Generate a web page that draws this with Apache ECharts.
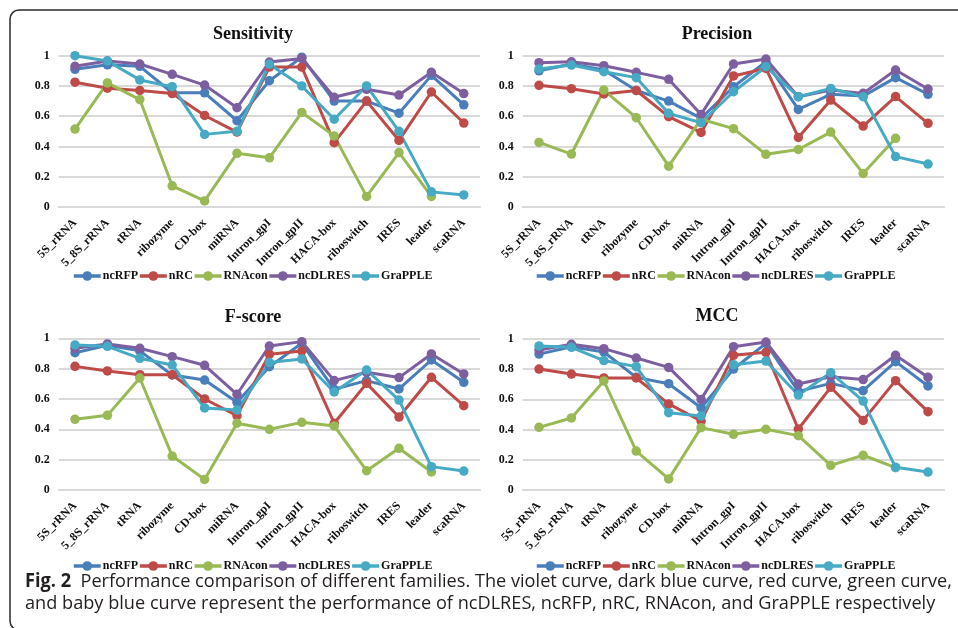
<!DOCTYPE html>
<html>
<head>
<meta charset="utf-8">
<script src="https://cdn.jsdelivr.net/npm/echarts/dist/echarts.min.js"></script>
<style>
  html, body { margin: 0; padding: 0; background: #fff; }
  #chart { width: 958px; height: 628px; }
</style>
</head>
<body>
<div id="chart"></div>
<script>
// RNA families on the x axis
const categories = ['5S_rRNA', '5_8S_rRNA', 'tRNA', 'ribozyme', 'CD-box', 'miRNA',
  'Intron_gpI', 'Intron_gpII', 'HACA-box', 'riboswitch', 'IRES', 'leader', 'scaRNA'];

const methods = ['ncRFP', 'nRC', 'RNAcon', 'ncDLRES', 'GraPPLE'];
const yTicks = [0, 0.2, 0.4, 0.6, 0.8, 1];

// Sensitivity
const sensNcRFP   = [0.91, 0.94, 0.93, 0.755, 0.755, 0.57, 0.835, 0.99, 0.70, 0.70, 0.62, 0.87, 0.675];
const sensNRC     = [0.825, 0.785, 0.77, 0.75, 0.605, 0.495, 0.925, 0.925, 0.425, 0.70, 0.44, 0.76, 0.555];
const sensRNAcon  = [0.515, 0.82, 0.71, 0.14, 0.04, 0.355, 0.325, 0.625, 0.47, 0.07, 0.36, 0.07, null];
const sensNcDLRES = [0.93, 0.965, 0.945, 0.877, 0.806, 0.656, 0.958, 0.982, 0.725, 0.778, 0.74, 0.89, 0.75];
const sensGraPPLE = [1.0, 0.965, 0.84, 0.795, 0.48, 0.50, 0.943, 0.80, 0.58, 0.80, 0.50, 0.10, 0.08];

// Precision
const precNcRFP   = [0.90, 0.945, 0.905, 0.77, 0.70, 0.586, 0.795, 0.96, 0.645, 0.745, 0.733, 0.855, 0.745];
const precNRC     = [0.804, 0.782, 0.747, 0.77, 0.597, 0.493, 0.866, 0.916, 0.46, 0.707, 0.535, 0.73, 0.553];
const precRNAcon  = [0.427, 0.35, 0.773, 0.59, 0.27, 0.58, 0.518, 0.348, 0.38, 0.495, 0.222, 0.454, null];
const precNcDLRES = [0.954, 0.96, 0.934, 0.89, 0.844, 0.612, 0.945, 0.978, 0.729, 0.773, 0.751, 0.905, 0.78];
const precGraPPLE = [0.912, 0.938, 0.894, 0.855, 0.619, 0.557, 0.762, 0.927, 0.729, 0.784, 0.729, 0.333, 0.284];

// F-score
const fscNcRFP   = [0.905, 0.954, 0.917, 0.758, 0.725, 0.578, 0.813, 0.967, 0.664, 0.721, 0.666, 0.857, 0.71];
const fscNRC     = [0.815, 0.785, 0.76, 0.76, 0.60, 0.49, 0.895, 0.916, 0.44, 0.703, 0.481, 0.743, 0.556];
const fscRNAcon  = [0.466, 0.492, 0.738, 0.224, 0.07, 0.44, 0.40, 0.446, 0.422, 0.127, 0.275, 0.119, null];
const fscNcDLRES = [0.934, 0.963, 0.934, 0.879, 0.822, 0.631, 0.949, 0.978, 0.721, 0.776, 0.741, 0.897, 0.765];
const fscGraPPLE = [0.956, 0.947, 0.868, 0.824, 0.541, 0.527, 0.84, 0.864, 0.646, 0.791, 0.593, 0.154, 0.125];

// MCC
const mccNcRFP   = [0.90, 0.949, 0.914, 0.746, 0.704, 0.545, 0.801, 0.971, 0.653, 0.706, 0.658, 0.85, 0.689];
const mccNRC     = [0.801, 0.768, 0.742, 0.742, 0.57, 0.457, 0.892, 0.912, 0.404, 0.68, 0.461, 0.724, 0.519];
const mccRNAcon  = [0.415, 0.477, 0.722, 0.258, 0.073, 0.413, 0.369, 0.402, 0.36, 0.163, 0.23, 0.148, null];
const mccNcDLRES = [0.927, 0.965, 0.936, 0.874, 0.812, 0.60, 0.949, 0.98, 0.702, 0.75, 0.731, 0.892, 0.746];
const mccGraPPLE = [0.954, 0.945, 0.857, 0.817, 0.512, 0.49, 0.83, 0.854, 0.629, 0.777, 0.589, 0.15, 0.119];

const colors = ['#4A7EBB', '#BE4B48', '#98B954', '#7D5FA0', '#46AAC5'];

const panels = [
  { title: 'Sensitivity', data: [sensNcRFP, sensNRC, sensRNAcon, sensNcDLRES, sensGraPPLE],
    grid: { left: 58.8, top: 55.7, width: 421.2, height: 151.3 }, titleX: 253, titleY: 25, legendX: 72, legendY: 270 },
  { title: 'Precision', data: [precNcRFP, precNRC, precRNAcon, precNcDLRES, precGraPPLE],
    grid: { left: 522.8, top: 55.7, width: 421.4, height: 151.3 }, titleX: 717, titleY: 25, legendX: 535, legendY: 270 },
  { title: 'F-score', data: [fscNcRFP, fscNRC, fscRNAcon, fscNcDLRES, fscGraPPLE],
    grid: { left: 58.8, top: 338.3, width: 421.2, height: 151.7 }, titleX: 253, titleY: 308, legendX: 72, legendY: 560 },
  { title: 'MCC', data: [mccNcRFP, mccNRC, mccRNAcon, mccNcDLRES, mccGraPPLE],
    grid: { left: 522.8, top: 339, width: 421.4, height: 151 }, titleX: 717, titleY: 307, legendX: 535, legendY: 560 }
];

const serif = '"Liberation Serif", "Times New Roman", serif';
const gridGray = '#D9D9D9';

const option = {
  animation: false,
  backgroundColor: '#ffffff',
  color: colors,
  title: [],
  legend: [],
  grid: [],
  xAxis: [],
  yAxis: [],
  series: [],
  graphic: []
};

panels.forEach((p, i) => {
  option.title.push({
    text: p.title, left: p.titleX, top: p.titleY, textAlign: 'center', padding: 0,
    textStyle: { fontFamily: serif, fontWeight: 'bold', fontSize: 18, color: '#111' }
  });
  option.grid.push(Object.assign({ containLabel: false }, p.grid));
  option.xAxis.push({
    type: 'category', gridIndex: i, data: categories, boundaryGap: true,
    axisLine: { lineStyle: { color: gridGray, width: 2 } },
    axisTick: { show: false },
    axisLabel: {
      interval: 0, rotate: 45, margin: 14,
      fontFamily: serif, fontWeight: 'bold', fontSize: 12, color: '#111'
    }
  });
  option.yAxis.push({
    type: 'value', gridIndex: i, min: yTicks[0], max: yTicks[yTicks.length - 1], interval: 0.2,
    axisLine: { show: false }, axisTick: { show: false },
    splitLine: { lineStyle: { color: gridGray, width: 2 } },
    axisLabel: { margin: 9, fontFamily: serif, fontWeight: 'bold', fontSize: 12, color: '#111' }
  });
  const names = [];
  methods.forEach((m, k) => {
    const id = m + '#' + i;
    names.push(id);
    option.series.push({
      name: id, type: 'line', xAxisIndex: i, yAxisIndex: i,
      data: p.data[k],
      symbol: 'circle', symbolSize: 9.5,
      lineStyle: { width: 3, color: colors[k] },
      itemStyle: { color: colors[k] },
      smooth: false
    });
  });
  option.legend.push({
    data: names, left: p.legendX, top: p.legendY, padding: 0,
    itemWidth: 27, itemHeight: 12, itemGap: 0,
    lineStyle: { width: 3.5 },
    formatter: (n) => n.split('#')[0],
    textStyle: { fontFamily: serif, fontWeight: 'bold', fontSize: 12, color: '#111', padding: [0, 0, 0, -3] }
  });
});

// figure frame with rounded left corners
option.graphic.push({
  type: 'rect', silent: true,
  shape: { x: 10, y: 10, width: 1000, height: 620, r: 9 },
  style: { fill: 'none', stroke: '#2b2b2b', lineWidth: 1.5 }
});

// caption, condensed to the frame width
const capFont = '"Open Sans", "Noto Sans", sans-serif';
const capBold = 'Fig. 2';
const capLine1 = '  Performance comparison of different families. The violet curve, dark blue curve, red curve, green curve,';
const capLine2 = 'and baby blue curve represent the performance of ncDLRES, ncRFP, nRC, RNAcon, and GraPPLE respectively';
const ctx = document.createElement('canvas').getContext('2d');
ctx.font = 'bold 19px ' + capFont;
let w1 = ctx.measureText(capBold).width;
ctx.font = '19px ' + capFont;
w1 += ctx.measureText(capLine1).width;
const capScale = 927 / w1;

option.graphic.push({
  type: 'text', x: 25, y: 582, scaleX: capScale, silent: true,
  style: {
    text: '{b|' + capBold + '}' + capLine1,
    font: '19px ' + capFont, fill: '#231F20', verticalAlign: 'middle',
    rich: { b: { fontFamily: capFont, fontWeight: 'bold', fontSize: 19, fill: '#231F20' } }
  }
});
option.graphic.push({
  type: 'text', x: 25, y: 604, scaleX: capScale, silent: true,
  style: { text: capLine2, font: '19px ' + capFont, fill: '#231F20', verticalAlign: 'middle' }
});

const chart = echarts.init(document.getElementById('chart'), null, { renderer: 'canvas' });
chart.setOption(option);
</script>
</body>
</html>
